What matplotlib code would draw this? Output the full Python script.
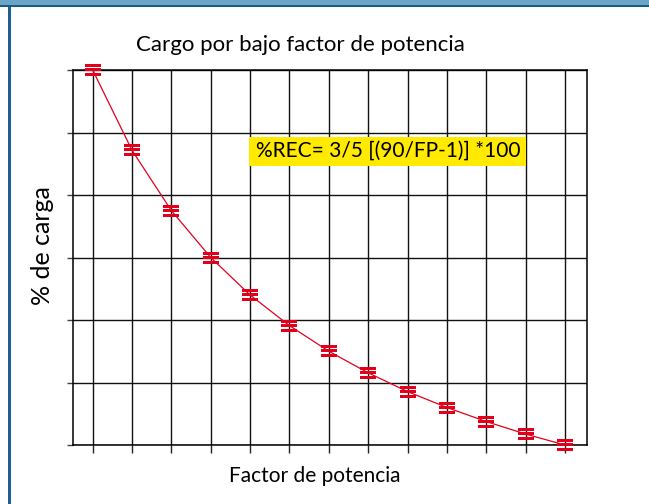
import numpy as np
import matplotlib.pyplot as plt
from matplotlib.path import Path
from matplotlib.patches import Rectangle

plt.rcParams['font.family'] = ['Lato', 'DejaVu Sans']

# factor de potencia (%) y cargo resultante (%)
fp = [30, 35, 40, 45, 50, 55, 60, 65, 70, 75, 80, 85, 90]
cargo = [120, 94.3, 75, 60, 48, 38.2, 30, 23.1, 17.1, 12, 7.5, 3.5, 0]

titulo = 'Cargo por bajo factor de potencia'
etiqueta_x = 'Factor de potencia'
etiqueta_y = '% de carga'
formula = '%REC= 3/5 [(90/FP-1)] *100'

rojo = '#e3001b'
amarillo = '#ffea00'

# marcador de tres barras horizontales
def barra(y0, y1):
    return [(-1, y0), (1, y0), (1, y1), (-1, y1), (-1, y0)]

verts = barra(0.42, 0.71) + barra(-0.12, 0.21) + barra(-0.71, -0.37)
codes = [Path.MOVETO, Path.LINETO, Path.LINETO, Path.LINETO, Path.CLOSEPOLY] * 3
marcador = Path(verts, codes)

fig = plt.figure(figsize=(6.49, 5.04), dpi=100)
W, H = 649, 504

# marco superior e izquierdo
fig.add_artist(Rectangle((0, 1 - 4.5 / H), 1, 4.5 / H, transform=fig.transFigure,
                         facecolor='#6ca5c6', edgecolor='none'))
fig.add_artist(Rectangle((0, 1 - 7 / H), 1, 2.5 / H, transform=fig.transFigure,
                         facecolor='#175b87', edgecolor='none'))
fig.add_artist(Rectangle((8 / W, 0), 3 / W, 1 - 7 / H, transform=fig.transFigure,
                         facecolor='#1b6090', edgecolor='none'))

ax = fig.add_axes([73 / W, 59 / H, 514 / W, 375 / H])
ax.plot(fp, cargo, color=rojo, lw=0.9, zorder=3, clip_on=False)
ax.plot(fp, cargo, linestyle='none', marker=marcador, markersize=11.5,
        color=rojo, markeredgewidth=0, zorder=4, clip_on=False)

ax.set_xlim(27.5, 92.8)
ax.set_ylim(0, 120)
ax.set_xticks(fp)
ax.set_yticks(np.arange(0, 121, 20))
ax.set_xticklabels([])
ax.set_yticklabels([])
ax.grid(True, color='#111111', lw=1.0)
ax.set_axisbelow(True)
ax.tick_params(axis='x', direction='out', length=6, width=1.0, color='#222222')
ax.tick_params(axis='y', direction='out', length=4.5, width=1.0, color='#444444')
for s in ax.spines.values():
    s.set_color('black')
    s.set_linewidth(1.1)

fig.text(300 / W, 1 - 51 / H, titulo, ha='center', va='baseline', fontsize=16, color='black')
fig.text(315 / W, 1 - 482 / H, etiqueta_x, ha='center', va='baseline', fontsize=15, color='black')
fig.text(43 / W, 1 - 246 / H, etiqueta_y, ha='center', va='center', rotation=90,
         fontsize=18, color='black')

# recuadro con la formula
fig.add_artist(Rectangle((249 / W, 1 - 166 / H), 277 / W, 29 / H, transform=fig.transFigure,
                         facecolor=amarillo, edgecolor='none', zorder=5))
fig.text(256 / W, 1 - 157 / H, formula, ha='left', va='baseline', fontsize=15,
         color='black', zorder=6)

fig.savefig('out.png', dpi=100)
